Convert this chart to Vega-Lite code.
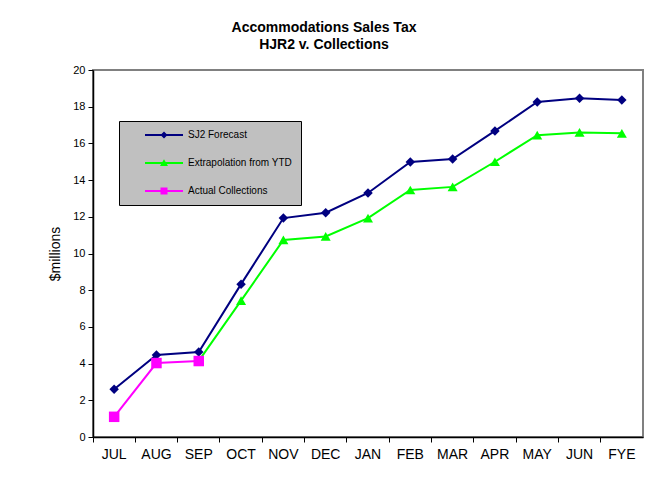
{
  "$schema": "https://vega.github.io/schema/vega-lite/v6.json",
  "autosize": {"type": "none"},
  "width": 550,
  "height": 367,
  "padding": {"left": 93, "top": 70, "right": 25, "bottom": 62},
  "background": "#ffffff",
  "config": {
    "view": {"stroke": "#808080", "strokeWidth": 2},
    "font": "Liberation Sans"
  },
  "title": {
    "text": ["Accommodations Sales Tax", "HJR2 v. Collections"],
    "font": "Liberation Sans",
    "fontSize": 14,
    "fontWeight": "bold",
    "color": "#000000",
    "anchor": "middle",
    "dx": -44,
    "offset": 12,
    "lineHeight": 17
  },
  "data": {
    "values": [
      {"month": "JUL", "series": "SJ2 Forecast", "value": 2.6},
      {"month": "AUG", "series": "SJ2 Forecast", "value": 4.47},
      {"month": "SEP", "series": "SJ2 Forecast", "value": 4.63},
      {"month": "OCT", "series": "SJ2 Forecast", "value": 8.33},
      {"month": "NOV", "series": "SJ2 Forecast", "value": 11.93},
      {"month": "DEC", "series": "SJ2 Forecast", "value": 12.22},
      {"month": "JAN", "series": "SJ2 Forecast", "value": 13.3},
      {"month": "FEB", "series": "SJ2 Forecast", "value": 14.99},
      {"month": "MAR", "series": "SJ2 Forecast", "value": 15.15},
      {"month": "APR", "series": "SJ2 Forecast", "value": 16.68},
      {"month": "MAY", "series": "SJ2 Forecast", "value": 18.26},
      {"month": "JUN", "series": "SJ2 Forecast", "value": 18.46},
      {"month": "FYE", "series": "SJ2 Forecast", "value": 18.36},
      {"month": "SEP", "series": "Extrapolation from YTD", "value": 4.15},
      {"month": "OCT", "series": "Extrapolation from YTD", "value": 7.43},
      {"month": "NOV", "series": "Extrapolation from YTD", "value": 10.74},
      {"month": "DEC", "series": "Extrapolation from YTD", "value": 10.93},
      {"month": "JAN", "series": "Extrapolation from YTD", "value": 11.93},
      {"month": "FEB", "series": "Extrapolation from YTD", "value": 13.46},
      {"month": "MAR", "series": "Extrapolation from YTD", "value": 13.63},
      {"month": "APR", "series": "Extrapolation from YTD", "value": 15.0},
      {"month": "MAY", "series": "Extrapolation from YTD", "value": 16.45},
      {"month": "JUN", "series": "Extrapolation from YTD", "value": 16.6},
      {"month": "FYE", "series": "Extrapolation from YTD", "value": 16.55},
      {"month": "JUL", "series": "Actual Collections", "value": 1.1},
      {"month": "AUG", "series": "Actual Collections", "value": 4.03},
      {"month": "SEP", "series": "Actual Collections", "value": 4.14}
    ]
  },
  "encoding": {
    "y": {
      "field": "value",
      "type": "quantitative",
      "scale": {"domain": [0, 20], "nice": false},
      "axis": {
        "title": "$millions",
        "titleFont": "Liberation Sans",
        "titleFontSize": 14,
        "titleFontWeight": "normal",
        "titleColor": "#000000",
        "titlePadding": 10,
        "tickCount": 10,
        "labelOverlap": false,
        "labelFont": "Liberation Sans",
        "labelFontSize": 11,
        "labelColor": "#000000",
        "labelPadding": 3,
        "tickSize": 5,
        "tickColor": "#000000",
        "domainColor": "#000000",
        "domainWidth": 1.5,
        "grid": false
      }
    }
  },
  "resolve": {
    "scale": {"color": "independent", "shape": "independent"},
    "axis": {"x": "independent"}
  },
  "layer": [
    {
      "mark": {"type": "line", "strokeWidth": 2},
      "encoding": {
        "x": {
          "field": "month",
          "type": "nominal",
          "sort": ["JUL","AUG","SEP","OCT","NOV","DEC","JAN","FEB","MAR","APR","MAY","JUN","FYE"],
          "scale": {"type": "band", "paddingInner": 0, "paddingOuter": 0},
          "axis": {
            "orient": "bottom",
            "title": null,
            "labels": false,
            "ticks": true,
            "tickSize": 5,
            "tickColor": "#000000",
            "tickWidth": 1,
            "bandPosition": 0,
            "domain": true,
            "domainColor": "#000000",
            "domainWidth": 1.5,
            "grid": false
          }
        },
        "color": {
          "field": "series",
          "type": "nominal",
          "scale": {"domain": ["SJ2 Forecast", "Extrapolation from YTD", "Actual Collections"], "range": ["#000080", "#00FF00", "#FF00FF"]},
          "legend": null
        }
      }
    },
    {
      "mark": {"type": "point", "filled": true, "opacity": 1},
      "encoding": {
        "x": {
          "field": "month",
          "type": "nominal",
          "sort": ["JUL","AUG","SEP","OCT","NOV","DEC","JAN","FEB","MAR","APR","MAY","JUN","FYE"],
          "axis": {
            "orient": "bottom",
            "title": null,
            "ticks": false,
            "domain": false,
            "labelFont": "Liberation Sans",
            "labelFontSize": 14,
            "labelColor": "#000000",
            "labelPadding": 10,
            "labelAngle": 0,
            "grid": false
          }
        },
        "color": {
          "field": "series",
          "type": "nominal",
          "scale": {"domain": ["SJ2 Forecast", "Extrapolation from YTD", "Actual Collections"], "range": ["#000080", "#00FF00", "#FF00FF"]},
          "legend": null
        },
        "shape": {
          "field": "series",
          "type": "nominal",
          "scale": {"domain": ["SJ2 Forecast", "Extrapolation from YTD", "Actual Collections"], "range": ["diamond", "triangle-up", "square"]},
          "legend": null
        },
        "size": {
          "field": "series",
          "type": "nominal",
          "scale": {"domain": ["SJ2 Forecast", "Extrapolation from YTD", "Actual Collections"], "range": [90, 110, 121]},
          "legend": null
        }
      }
    },
    {
      "mark": {"type": "point", "filled": true, "opacity": 0, "size": 100},
      "encoding": {
        "x": {
          "field": "month",
          "type": "nominal",
          "sort": ["JUL","AUG","SEP","OCT","NOV","DEC","JAN","FEB","MAR","APR","MAY","JUN","FYE"],
          "axis": null
        },
        "color": {
          "field": "series",
          "type": "nominal",
          "scale": {"domain": ["SJ2 Forecast", "Extrapolation from YTD", "Actual Collections"], "range": ["#000080", "#00FF00", "#FF00FF"]},
          "legend": {
            "orient": "none",
            "legendX": 26,
            "legendY": 51,
            "title": null,
            "fillColor": "#C0C0C0",
            "strokeColor": "#000000",
            "padding": 9,
            "rowPadding": 18,
            "symbolOffset": 31,
            "labelOffset": 19,
            "labelFont": "Liberation Sans",
            "labelFontSize": 10,
            "labelColor": "#000000",
            "labelExpr": "datum.label + '   '",
            "symbolSize": 100,
            "symbolStrokeWidth": 0,
            "symbolOpacity": 1
          }
        },
        "shape": {
          "field": "series",
          "type": "nominal",
          "scale": {
            "domain": ["SJ2 Forecast", "Extrapolation from YTD", "Actual Collections"],
            "range": [
              "M-3.8,-0.2H3.8V0.2H-3.8Z M0,-0.7L0.7,0L0,0.7L-0.7,0Z",
              "M-3.8,-0.2H3.8V0.2H-3.8Z M0,-0.75L0.8,0.6L-0.8,0.6Z",
              "M-3.8,-0.2H3.8V0.2H-3.8Z M-0.7,-0.7H0.7V0.7H-0.7Z"
            ]
          },
          "legend": {
            "orient": "none",
            "legendX": 26,
            "legendY": 51,
            "title": null,
            "fillColor": "#C0C0C0",
            "strokeColor": "#000000",
            "padding": 9,
            "rowPadding": 18,
            "symbolOffset": 31,
            "labelOffset": 19,
            "labelFont": "Liberation Sans",
            "labelFontSize": 10,
            "labelColor": "#000000",
            "labelExpr": "datum.label + '   '",
            "symbolSize": 100,
            "symbolStrokeWidth": 0,
            "symbolOpacity": 1
          }
        }
      }
    }
  ]
}
